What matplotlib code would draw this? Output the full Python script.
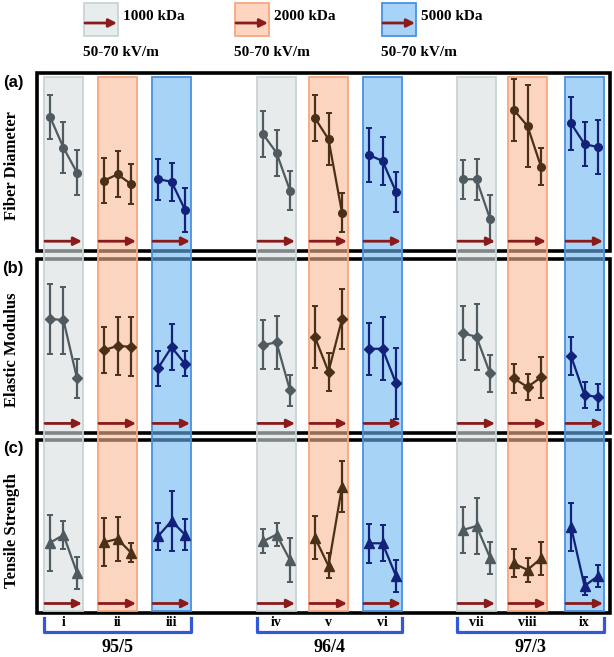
import matplotlib.pyplot as plt
from matplotlib.patches import Rectangle

# sample labels, blend ratios, molecular weights
samples = ['i', 'ii', 'iii', 'iv', 'v', 'vi', 'vii', 'viii', 'ix']
blends = ['95/5', '96/4', '97/3']
mw_labels = ['1000 kDa', '2000 kDa', '5000 kDa']
field_label = '50-70 kV/m'
props = ['Fiber Diameter', 'Elastic Modulus', 'Tensile Strength']

# values (arbitrary units, % of panel height), 3 voltages per sample
diam_vals = [[75.4, 58.0, 44.0], [39.5, 43.1, 37.6], [40.4, 38.9, 23.2],
             [65.7, 55.2, 33.9], [74.6, 62.8, 21.5], [53.9, 50.6, 33.3],
             [40.3, 40.3, 18.1], [79.2, 70.2, 47.4], [71.7, 60.1, 58.3]]
diam_errs = [[12.2, 14.2, 12.8], [12.8, 12.8, 11.1], [11.5, 10.6, 12.4],
             [12.9, 12.8, 11.0], [13.0, 14.6, 11.0], [15.2, 13.6, 11.2],
             [11.1, 11.4, 13.2], [17.4, 23.0, 10.3], [14.7, 12.2, 15.2]]

mod_vals = [[65.7, 64.8, 31.4], [47.7, 50.0, 49.6], [37.2, 49.3, 39.8],
            [50.6, 52.1, 24.5], [55.0, 35.2, 65.5], [48.4, 48.4, 28.6],
            [57.3, 55.3, 34.3], [31.4, 26.4, 32.0], [44.3, 21.8, 20.7]]
mod_errs = [[20.1, 19.2, 11.0], [13.2, 16.4, 16.8], [10.1, 13.3, 7.3],
            [14.1, 15.1, 9.0], [17.9, 11.0, 17.3], [14.9, 18.1, 20.4],
            [15.6, 19.0, 10.5], [8.3, 7.5, 11.8], [11.1, 7.6, 7.3]]

str_vals = [[40.6, 45.1, 23.3], [40.9, 42.8, 34.9], [44.3, 53.2, 45.3],
            [41.4, 45.3, 30.6], [43.5, 27.2, 73.0], [40.3, 40.3, 21.4],
            [48.0, 50.3, 32.0], [28.7, 24.9, 31.6], [49.9, 15.6, 21.4]]
str_errs = [[16.2, 8.3, 9.2], [14.0, 12.5, 5.4], [8.0, 17.1, 9.0],
            [6.9, 6.8, 12.9], [12.5, 7.2, 14.9], [11.4, 10.4, 9.5],
            [13.4, 16.4, 9.3], [8.1, 7.1, 9.5], [13.9, 5.4, 6.4]]

# ---- layout (pixel units) ----
W, H = 614, 657
col_left = [44, 98, 152, 257, 309, 363, 457, 508, 565]
col_w = 39
offs = [-13.5, 0, 13.5]
panels = [(73, 251), (259, 433), (440, 613)]   # top, bottom of each frame
frame_x = (37, 610)

face = [(215/255, 223/255, 223/255, 0.6), (250/255, 185/255, 150/255, 0.6), (108/255, 182/255, 243/255, 0.6)]
edge = ['#c9d3d5', '#f7a67f', '#4a90e2']
solid = ['#e7ecec', '#fdd5c0', '#a7d3f8']
line_c = ['#4f5b60', '#4a3017', '#12217a']
markers = ['o', 'D', '^']
msizes = [5.5, 5.5, 6.5]
arrow_c = '#8b1a1a'
bracket_c = '#3358d6'
serif = 'Liberation Serif'

fig = plt.figure(figsize=(W / 100, H / 100), dpi=100)
bg = fig.add_axes([0, 0, 1, 1])
bg.set_xlim(0, W)
bg.set_ylim(H, 0)
bg.axis('off')

# panel frames
for top, bot in panels:
    bg.add_patch(Rectangle((frame_x[0], top), frame_x[1] - frame_x[0], bot - top,
                           fill=False, ec='black', lw=2.6, zorder=1))

# shaded sample columns spanning all panels
for k, x0 in enumerate(col_left):
    m = k % 3
    bg.add_patch(Rectangle((x0, 77), col_w, 611 - 77, fc=face[m], ec=edge[m], lw=1.3, zorder=2))

# legend on top
leg_x = [84, 235, 382]
for m in range(3):
    x0 = leg_x[m]
    bg.add_patch(Rectangle((x0, 3), 34, 33, fc=solid[m], ec=edge[m], lw=1.3, zorder=2))
    bg.annotate('', xy=(x0 + 33, 23), xytext=(x0 + 1, 23),
                arrowprops=dict(arrowstyle='-|>', color=arrow_c, lw=2, mutation_scale=12,
                                shrinkA=0, shrinkB=0), zorder=3)
    bg.text(x0 + 39, 17, mw_labels[m], fontsize=11, fontweight='bold', family=serif, va='center')
    bg.text(x0 - 1, 53, field_label, fontsize=11, fontweight='bold', family=serif, va='center')

# panel letters and y labels
for (top, bot), lab, prop in zip(panels, ['(a)', '(b)', '(c)'], props):
    bg.text(13, top + 9, lab, fontsize=12, fontweight='bold', family='Liberation Sans',
            ha='center', va='center')
    bg.text(12, (top + bot) / 2 + 4, prop, fontsize=12, fontweight='bold', family=serif,
            rotation=90, ha='center', va='center')

# sample numerals and blend brackets
for k, x0 in enumerate(col_left):
    bg.text(x0 + col_w / 2, 623, samples[k], fontsize=10, fontweight='bold', family=serif,
            ha='center', va='center')
for g in range(3):
    xl = col_left[3 * g]
    xr = col_left[3 * g + 2] + col_w
    bg.plot([xl, xl, xr, xr], [618, 632, 632, 618], color=bracket_c, lw=2.3)
    bg.text((xl + xr) / 2, 648, blends[g], fontsize=13, fontweight='bold', family=serif,
            ha='center', va='center')

# data panels
data = [(diam_vals, diam_errs), (mod_vals, mod_errs), (str_vals, str_errs)]
for p, (top, bot) in enumerate(panels):
    ax = fig.add_axes([frame_x[0] / W, (H - bot) / H, (frame_x[1] - frame_x[0]) / W, (bot - top) / H])
    ax.set_xlim(*frame_x)
    ax.set_ylim(0, 100)
    ax.patch.set_alpha(0)
    ax.axis('off')
    vals, errs = data[p]
    for k, x0 in enumerate(col_left):
        m = k % 3
        xs = [x0 + col_w / 2 + o for o in offs]
        ax.errorbar(xs, vals[k], yerr=errs[k], fmt='-' + markers[p], color=line_c[m],
                    ms=msizes[p], lw=1.6, elinewidth=1.6, capsize=2, capthick=1.4)
        ax.annotate('', xy=(x0 + col_w - 1, 5.5), xytext=(x0 + 1, 5.5),
                    arrowprops=dict(arrowstyle='-|>', color=arrow_c, lw=2, mutation_scale=12,
                                    shrinkA=0, shrinkB=0))

fig.savefig('out.png', dpi=100)
